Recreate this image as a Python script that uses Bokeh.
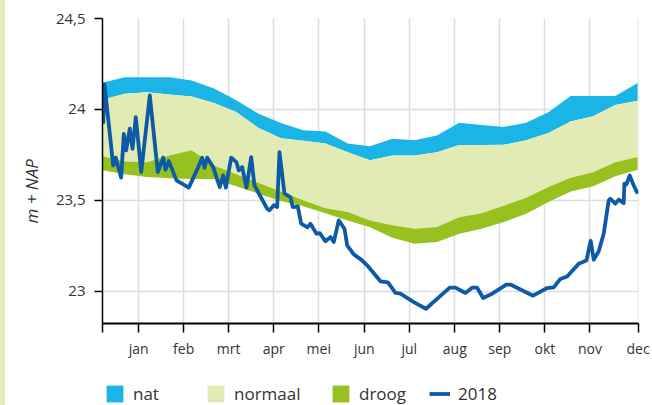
from bokeh.plotting import figure
from bokeh.layouts import column, row
from bokeh.models import FixedTicker, Legend, LegendItem, Range1d, Title, Div
from bokeh.embed import file_html
from bokeh.resources import INLINE

# ---- data -------------------------------------------------------------
# band vertices, every half month (x in month units from the start of the axis)
half_month = [0.0, 0.5, 1.0, 1.5, 2.0, 2.5, 3.0, 3.5, 4.0, 4.5, 5.0, 5.5, 6.0,
              6.5, 7.0, 7.5, 8.0, 8.5, 9.0, 9.5, 10.0, 10.5, 11.0, 11.5, 12.0]
nat_top = [24.147, 24.177, 24.177, 24.177, 24.159, 24.115, 24.050, 23.976, 23.926,
           23.885, 23.879, 23.813, 23.797, 23.839, 23.830, 23.857, 23.927, 23.915,
           23.903, 23.927, 23.985, 24.074, 24.074, 24.074, 24.145]
normaal_top = [24.053, 24.086, 24.095, 24.082, 24.071, 24.035, 23.986, 23.898, 23.841,
               23.828, 23.813, 23.765, 23.720, 23.747, 23.747, 23.765, 23.805, 23.805,
               23.806, 23.830, 23.871, 23.934, 23.962, 24.024, 24.048]
droog_top = [23.742, 23.714, 23.709, 23.747, 23.775, 23.692, 23.643, 23.596, 23.549,
             23.500, 23.456, 23.436, 23.390, 23.363, 23.344, 23.353, 23.407, 23.429,
             23.470, 23.514, 23.574, 23.625, 23.655, 23.710, 23.738]
droog_bottom = [23.665, 23.643, 23.629, 23.621, 23.618, 23.618, 23.577, 23.537, 23.497,
                23.468, 23.429, 23.390, 23.352, 23.295, 23.262, 23.271, 23.317, 23.344,
                23.381, 23.427, 23.491, 23.549, 23.577, 23.632, 23.669]

# 2018 measured level
line_x = [0.016, 0.045, 0.240, 0.298, 0.343, 0.419, 0.478, 0.531, 0.612, 0.673, 0.747,
          0.868, 1.061, 1.240, 1.361, 1.413, 1.487, 1.659, 1.935, 2.123, 2.235, 2.287,
          2.348, 2.480, 2.630, 2.706, 2.765, 2.886, 3.004, 3.056, 3.132, 3.229, 3.334,
          3.408, 3.693, 3.744, 3.841, 3.917, 3.969, 4.081, 4.215, 4.267, 4.379, 4.455,
          4.596, 4.664, 4.798, 4.872, 4.998, 5.112, 5.186, 5.298, 5.426, 5.487, 5.635,
          5.807, 5.935, 6.233, 6.401, 6.570, 6.682, 6.980, 7.253, 7.787, 7.915, 8.139,
          8.289, 8.401, 8.536, 8.738, 9.058, 9.148, 9.657, 9.971, 10.119, 10.258, 10.419,
          10.679, 10.852, 10.948, 11.016, 11.128, 11.240, 11.352, 11.390, 11.502, 11.576,
          11.688, 11.704, 11.749, 11.823, 11.913, 12.002]
line_y = [23.921, 24.137, 23.692, 23.735, 23.692, 23.625, 23.866, 23.775, 23.894, 23.784,
          23.958, 23.656, 24.077, 23.656, 23.735, 23.669, 23.716, 23.610, 23.570, 23.669,
          23.735, 23.680, 23.735, 23.683, 23.573, 23.637, 23.570, 23.735, 23.710, 23.665,
          23.683, 23.570, 23.738, 23.582, 23.454, 23.445, 23.473, 23.463, 23.765, 23.537,
          23.518, 23.463, 23.467, 23.372, 23.352, 23.371, 23.317, 23.320, 23.275, 23.298,
          23.271, 23.390, 23.344, 23.253, 23.203, 23.173, 23.143, 23.055, 23.049, 22.992,
          22.987, 22.941, 22.904, 23.020, 23.020, 22.991, 23.020, 23.020, 22.963, 22.987,
          23.037, 23.037, 22.976, 23.018, 23.022, 23.066, 23.081, 23.152, 23.169, 23.278,
          23.174, 23.220, 23.317, 23.500, 23.509, 23.482, 23.504, 23.485, 23.592, 23.588,
          23.637, 23.582, 23.537]

month_labels = ["jan", "feb", "mrt", "apr", "mei", "jun", "jul", "aug", "sep", "okt", "nov", "dec"]
month_ticks = [0.81, 1.82, 2.83, 3.84, 4.85, 5.87, 6.88, 7.90, 8.91, 9.92, 10.93, 12.01]
y_ticks = [23.0, 23.5, 24.0, 24.5]
y_tick_labels = ["23", "23,5", "24", "24,5"]
legend_labels = ["nat", "normaal", "droog", "2018"]

# ---- style ------------------------------------------------------------
NAT = "#1ab4e7"
NORMAAL = "#e3ebb5"
DROOG = "#96c11f"
LINE = "#0d5ba6"
TEXT = "#333333"
FONT = "Open Sans"
LINE_W = 3.8
STRIP_W = 5

p = figure(width=652 - STRIP_W, height=375, output_backend="svg", toolbar_location=None,
           x_range=Range1d(0, 12.02), y_range=Range1d(22.823, 24.5),
           min_border_left=102 - STRIP_W, min_border_right=14, min_border_top=18,
           min_border_bottom=52)
p.outline_line_color = None

p.varea(x=half_month, y1=normaal_top, y2=nat_top, fill_color=NAT)
p.varea(x=half_month, y1=droog_top, y2=normaal_top, fill_color=NORMAAL)
p.varea(x=half_month, y1=droog_bottom, y2=droog_top, fill_color=DROOG)
p.line(line_x, line_y, line_color=LINE, line_width=LINE_W, line_join="round")

# grid
p.xgrid.ticker = FixedTicker(ticks=month_ticks)
p.ygrid.ticker = FixedTicker(ticks=y_ticks)
for g in (p.xgrid, p.ygrid):
    g.grid_line_color = "#dddddd"
    g.grid_line_width = 1.5

# x axis
xa = p.xaxis[0]
xa.ticker = FixedTicker(ticks=[0.0] + month_ticks)
ov = {0.0: ""}
for t, lab in zip(month_ticks, month_labels):
    ov[t] = lab
xa.major_label_overrides = ov
xa.major_tick_out = 9
xa.major_tick_in = 0
xa.minor_tick_line_color = None
xa.axis_line_width = 2
xa.axis_line_color = "black"
xa.major_tick_line_color = "black"
xa.major_tick_line_width = 1.5
xa.major_label_standoff = 6
xa.major_label_text_font = FONT
xa.major_label_text_font_size = "14px"
xa.major_label_text_color = TEXT

# y axis
ya = p.yaxis[0]
ya.ticker = FixedTicker(ticks=y_ticks)
ya.major_label_overrides = {t: lab for t, lab in zip(y_ticks, y_tick_labels)}
ya.major_tick_out = 8
ya.major_tick_in = 0
ya.minor_tick_line_color = None
ya.axis_line_width = 1.5
ya.axis_line_color = "black"
ya.major_tick_line_color = "black"
ya.major_tick_line_width = 1.5
ya.major_label_standoff = 9
ya.major_label_text_font = FONT
ya.major_label_text_font_size = "15px"
ya.major_label_text_color = TEXT

# y axis title (vertical, left of the tick labels)
p.add_layout(Title(text="m + NAP", align="left", offset=100, standoff=20,
                   text_font=FONT, text_font_style="italic", text_font_size="17px",
                   text_color=TEXT), "left")

# ---- legend strip -----------------------------------------------------
# same series drawn again, but outside this strip's visible ranges, so only
# their legend swatches show
lg = figure(width=652 - STRIP_W, height=30, output_backend="svg", toolbar_location=None,
            x_range=Range1d(100, 101), y_range=Range1d(0, 1),
            min_border_left=0, min_border_right=0, min_border_top=0, min_border_bottom=0)
lg.outline_line_color = None
lg.axis.visible = False
lg.grid.visible = False
e_nat = lg.varea(x=half_month, y1=normaal_top, y2=nat_top, fill_color=NAT)
e_norm = lg.varea(x=half_month, y1=droog_top, y2=normaal_top, fill_color=NORMAAL)
e_droog = lg.varea(x=half_month, y1=droog_bottom, y2=droog_top, fill_color=DROOG)
e_line = lg.line(x=line_x, y=line_y, line_color=LINE, line_width=LINE_W)

# offsets relative to the (column-aligned) frame left edge
for lab, r, dx in zip(legend_labels, [e_nat, e_norm, e_droog, e_line], [2, 103, 228, 327]):
    leg = Legend(items=[LegendItem(label=lab, renderers=[r])], location=(dx, 0),
                 orientation="horizontal", glyph_width=21, glyph_height=21,
                 label_standoff=8, padding=0, margin=0, spacing=0,
                 label_height=21, border_line_color=None, background_fill_alpha=0,
                 label_text_font=FONT, label_text_font_size="17px",
                 label_text_color=TEXT)
    lg.add_layout(leg, "center")

# decorative light-green page strip on the far left
strip = Div(text="", width=STRIP_W, height=405, margin=0,
            styles={"background-color": "#e4ecb8"})

layout = row(strip, column(p, lg, spacing=0), spacing=0)
open("out.html", "w").write(file_html(layout, INLINE))
